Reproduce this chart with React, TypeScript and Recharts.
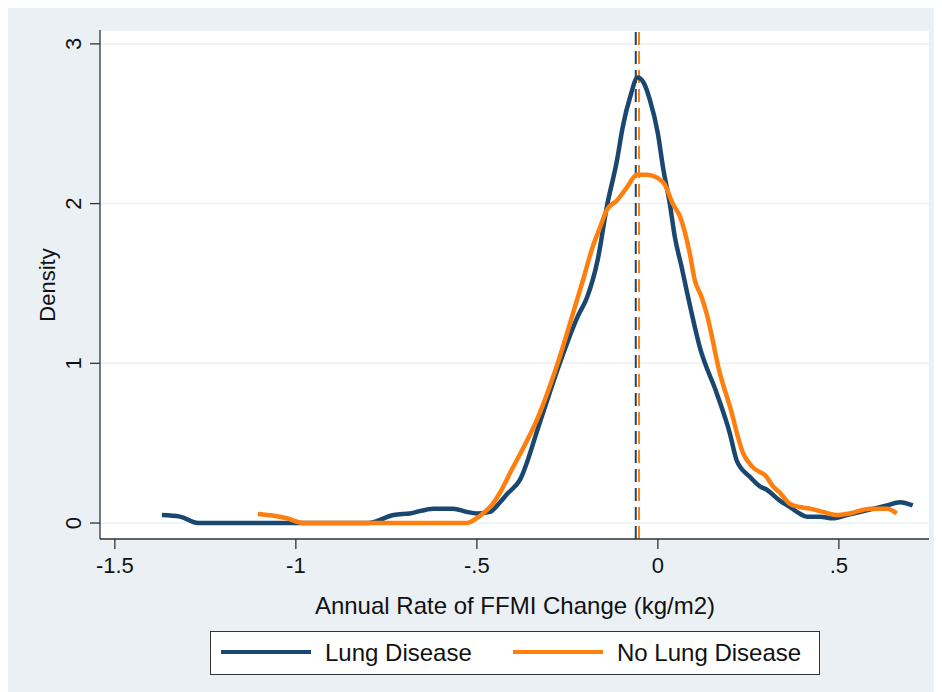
import { LineChart, Line, XAxis, YAxis, CartesianGrid, ReferenceLine } from 'recharts'

// Kernel density estimates
const lungX = [-1.37, -1.32, -1.27, -1.0, -0.8, -0.73, -0.685, -0.62, -0.566, -0.528, -0.5, -0.464, -0.436, -0.417, -0.381, -0.326, -0.271, -0.22, -0.196, -0.166, -0.141, -0.113, -0.097, -0.075, -0.056, -0.04, -0.022, 0, 0.014, 0.033, 0.047, 0.066, 0.083, 0.116, 0.163, 0.199, 0.218, 0.254, 0.282, 0.3, 0.337, 0.365, 0.384, 0.412, 0.448, 0.483, 0.522, 0.577, 0.633, 0.669, 0.704]
const lungY = [0.05, 0.04, 0, 0, 0, 0.05, 0.06, 0.09, 0.09, 0.07, 0.06, 0.07, 0.13, 0.18, 0.27, 0.63, 1.0, 1.3, 1.41, 1.65, 1.98, 2.27, 2.48, 2.68, 2.79, 2.76, 2.65, 2.44, 2.23, 2.0, 1.79, 1.6, 1.42, 1.1, 0.81, 0.56, 0.39, 0.29, 0.23, 0.21, 0.14, 0.1, 0.07, 0.04, 0.04, 0.03, 0.05, 0.08, 0.11, 0.13, 0.11]

const noLungX = [-1.105, -1.06, -1.025, -0.98, -0.75, -0.528, -0.5, -0.483, -0.456, -0.436, -0.409, -0.326, -0.271, -0.24, -0.207, -0.18, -0.16, -0.141, -0.113, -0.086, -0.058, -0.03, 0, 0.019, 0.041, 0.061, 0.088, 0.102, 0.12, 0.135, 0.171, 0.199, 0.235, 0.262, 0.3, 0.318, 0.337, 0.365, 0.392, 0.42, 0.456, 0.494, 0.53, 0.586, 0.633, 0.66]
const noLungY = [0.056, 0.045, 0.03, 0, 0, 0, 0.03, 0.06, 0.12, 0.19, 0.31, 0.69, 1.04, 1.27, 1.52, 1.73, 1.85, 1.96, 2.02, 2.1, 2.18, 2.18, 2.16, 2.12, 2.0, 1.92, 1.69, 1.52, 1.42, 1.31, 0.94, 0.73, 0.44, 0.35, 0.29, 0.23, 0.19, 0.12, 0.1, 0.09, 0.07, 0.05, 0.06, 0.09, 0.09, 0.06]

// group means (dashed lines)
const lungMean = -0.061
const noLungMean = -0.052

const xTicks = [-1.5, -1, -0.5, 0, 0.5]
const yTicks = [0, 1, 2, 3]

const NAVY = '#1a476f'
const ORANGE = '#ff7f0e'
const PANEL = '#eaf0f4'
const FONT = '"Liberation Sans", Arial, Helvetica, sans-serif'

const lungData = lungX.map((x, i) => ({ x, y: lungY[i] }))
const noLungData = noLungX.map((x, i) => ({ x, y: noLungY[i] }))

const fmtX = (v: number) => {
  if (v === 0) return '0'
  return String(v).replace(/^(-?)0\./, '$1.')
}

const YTick = ({ x, y, payload }: any) => (
  <text x={x} y={y} transform={`rotate(-90, ${x}, ${y})`} textAnchor="middle" fontSize={22} fill="#111" fontFamily={FONT}>
    {payload.value}
  </text>
)

export default function App() {
  return (
    <div style={{ position: 'relative', width: 934, height: 686, background: PANEL, marginTop: -2 }}>
      <LineChart width={934} height={686} margin={{ top: 24, right: 13, left: 0, bottom: 93 }}>
        <CartesianGrid fill="#fff" stroke={PANEL} strokeWidth={1.5} vertical={false} />
        <XAxis
          type="number"
          dataKey="x"
          domain={[-1.541, 0.749]}
          ticks={xTicks}
          tickFormatter={fmtX}
          allowDuplicatedCategory={false}
          height={60}
          tickSize={10}
          tickMargin={8}
          stroke="#333"
          strokeWidth={1.3}
          tick={{ fontSize: 22, fill: '#111', fontFamily: FONT }}
          label={{
            content: () => (
              <text x={507} y={608} textAnchor="middle" fontSize={24} fill="#111" fontFamily={FONT}>
                Annual Rate of FFMI Change (kg/m2)
              </text>
            ),
          }}
        />
        <YAxis
          type="number"
          domain={[-0.1, 3.087]}
          ticks={yTicks}
          width={92}
          tickSize={10}
          tickMargin={9}
          stroke="#333"
          strokeWidth={1.3}
          tick={<YTick />}
          label={{
            content: () => (
              <text x={47} y={279} transform="rotate(-90, 47, 279)" textAnchor="middle" fontSize={22} fill="#111" fontFamily={FONT}>
                Density
              </text>
            ),
          }}
        />
        <ReferenceLine x={lungMean} stroke={NAVY} strokeWidth={2} strokeDasharray="13 6" />
        <ReferenceLine x={noLungMean} stroke={ORANGE} strokeWidth={2} strokeDasharray="13 6" />
        <Line data={lungData} dataKey="y" name="Lung Disease" type="monotone" stroke={NAVY} strokeWidth={4.5} dot={false} isAnimationActive={false} />
        <Line data={noLungData} dataKey="y" name="No Lung Disease" type="monotone" stroke={ORANGE} strokeWidth={4.5} dot={false} isAnimationActive={false} />
      </LineChart>
      <div style={{ position: 'absolute', left: 202, top: 625, width: 608, height: 42, background: '#fff', border: '1px solid #333', fontFamily: FONT, fontSize: 24, color: '#111' }}>
        <div style={{ position: 'absolute', left: 10, top: 18, width: 90, height: 4, background: NAVY }} />
        <div style={{ position: 'absolute', left: 114, top: 7, lineHeight: '27px' }}>Lung Disease</div>
        <div style={{ position: 'absolute', left: 302, top: 18, width: 90, height: 4, background: ORANGE }} />
        <div style={{ position: 'absolute', left: 406, top: 7, lineHeight: '27px' }}>No Lung Disease</div>
      </div>
    </div>
  )
}
